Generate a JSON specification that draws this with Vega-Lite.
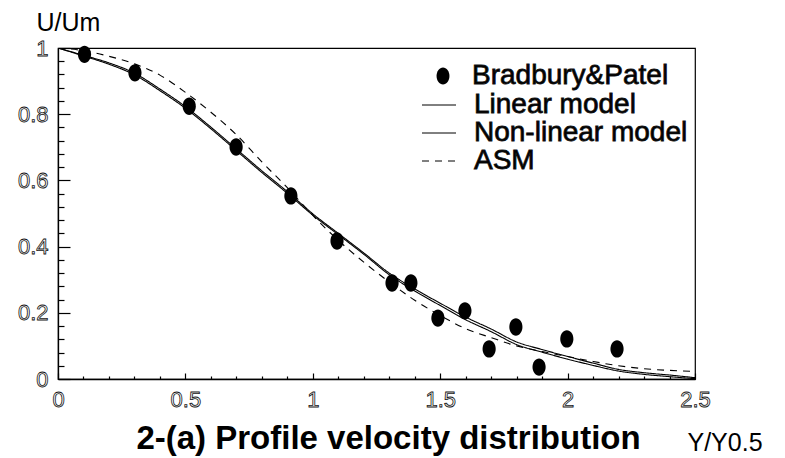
{
  "$schema": "https://vega.github.io/schema/vega-lite/v6.json",
  "width": 637,
  "height": 331,
  "autosize": {"type": "none"},
  "padding": {"left": 58, "top": 48, "right": 90, "bottom": 79},
  "background": "white",
  "config": {
    "view": {"stroke": "black", "strokeWidth": 1.2},
    "axis": {
      "grid": false,
      "domainColor": "black",
      "domainWidth": 1.3,
      "tickColor": "black",
      "tickWidth": 1.2,
      "labelFont": "Liberation Sans",
      "labelFontSize": 22,
      "labelColor": "white",
      "titleFont": "Liberation Sans",
      "titleFontWeight": "normal",
      "titleColor": "black"
    },
    "style": {
      "guide-label": {"stroke": "#111111", "strokeWidth": 0.8}
    },
    "legend": {
      "labelFont": "Liberation Sans",
      "labelFontSize": 28,
      "labelColor": "black",
      "labelLimit": 400
    }
  },
  "datasets": {
    "lines": [
      {"series": "Linear model", "x": 0.0, "y": 1.000},
      {"series": "Linear model", "x": 0.1, "y": 0.978},
      {"series": "Linear model", "x": 0.2, "y": 0.955},
      {"series": "Linear model", "x": 0.3, "y": 0.924},
      {"series": "Linear model", "x": 0.4, "y": 0.876},
      {"series": "Linear model", "x": 0.5, "y": 0.823},
      {"series": "Linear model", "x": 0.6, "y": 0.761},
      {"series": "Linear model", "x": 0.7, "y": 0.695},
      {"series": "Linear model", "x": 0.8, "y": 0.629},
      {"series": "Linear model", "x": 0.9, "y": 0.566},
      {"series": "Linear model", "x": 1.0, "y": 0.499},
      {"series": "Linear model", "x": 1.1, "y": 0.440},
      {"series": "Linear model", "x": 1.2, "y": 0.381},
      {"series": "Linear model", "x": 1.3, "y": 0.320},
      {"series": "Linear model", "x": 1.4, "y": 0.272},
      {"series": "Linear model", "x": 1.5, "y": 0.229},
      {"series": "Linear model", "x": 1.6, "y": 0.187},
      {"series": "Linear model", "x": 1.7, "y": 0.151},
      {"series": "Linear model", "x": 1.8, "y": 0.112},
      {"series": "Linear model", "x": 1.9, "y": 0.089},
      {"series": "Linear model", "x": 2.0, "y": 0.068},
      {"series": "Linear model", "x": 2.1, "y": 0.048},
      {"series": "Linear model", "x": 2.2, "y": 0.029},
      {"series": "Linear model", "x": 2.3, "y": 0.019},
      {"series": "Linear model", "x": 2.4, "y": 0.012},
      {"series": "Linear model", "x": 2.5, "y": 0.004},
      {"series": "Non-linear model", "x": 0.0, "y": 1.000},
      {"series": "Non-linear model", "x": 0.1, "y": 0.976},
      {"series": "Non-linear model", "x": 0.2, "y": 0.951},
      {"series": "Non-linear model", "x": 0.3, "y": 0.919},
      {"series": "Non-linear model", "x": 0.4, "y": 0.871},
      {"series": "Non-linear model", "x": 0.5, "y": 0.818},
      {"series": "Non-linear model", "x": 0.6, "y": 0.756},
      {"series": "Non-linear model", "x": 0.7, "y": 0.690},
      {"series": "Non-linear model", "x": 0.8, "y": 0.624},
      {"series": "Non-linear model", "x": 0.9, "y": 0.561},
      {"series": "Non-linear model", "x": 1.0, "y": 0.495},
      {"series": "Non-linear model", "x": 1.1, "y": 0.436},
      {"series": "Non-linear model", "x": 1.2, "y": 0.377},
      {"series": "Non-linear model", "x": 1.3, "y": 0.315},
      {"series": "Non-linear model", "x": 1.4, "y": 0.266},
      {"series": "Non-linear model", "x": 1.5, "y": 0.222},
      {"series": "Non-linear model", "x": 1.6, "y": 0.179},
      {"series": "Non-linear model", "x": 1.7, "y": 0.143},
      {"series": "Non-linear model", "x": 1.8, "y": 0.104},
      {"series": "Non-linear model", "x": 1.9, "y": 0.081},
      {"series": "Non-linear model", "x": 2.0, "y": 0.060},
      {"series": "Non-linear model", "x": 2.1, "y": 0.041},
      {"series": "Non-linear model", "x": 2.2, "y": 0.024},
      {"series": "Non-linear model", "x": 2.3, "y": 0.014},
      {"series": "Non-linear model", "x": 2.4, "y": 0.007},
      {"series": "Non-linear model", "x": 2.5, "y": 0.001},
      {"series": "ASM", "x": 0.0, "y": 1.000},
      {"series": "ASM", "x": 0.1, "y": 0.992},
      {"series": "ASM", "x": 0.2, "y": 0.975},
      {"series": "ASM", "x": 0.3, "y": 0.952},
      {"series": "ASM", "x": 0.4, "y": 0.918},
      {"series": "ASM", "x": 0.5, "y": 0.866},
      {"series": "ASM", "x": 0.6, "y": 0.806},
      {"series": "ASM", "x": 0.7, "y": 0.738},
      {"series": "ASM", "x": 0.8, "y": 0.656},
      {"series": "ASM", "x": 0.9, "y": 0.578},
      {"series": "ASM", "x": 1.0, "y": 0.494},
      {"series": "ASM", "x": 1.1, "y": 0.419},
      {"series": "ASM", "x": 1.2, "y": 0.353},
      {"series": "ASM", "x": 1.3, "y": 0.293},
      {"series": "ASM", "x": 1.4, "y": 0.238},
      {"series": "ASM", "x": 1.5, "y": 0.192},
      {"series": "ASM", "x": 1.6, "y": 0.152},
      {"series": "ASM", "x": 1.7, "y": 0.125},
      {"series": "ASM", "x": 1.8, "y": 0.100},
      {"series": "ASM", "x": 1.9, "y": 0.083},
      {"series": "ASM", "x": 2.0, "y": 0.068},
      {"series": "ASM", "x": 2.1, "y": 0.053},
      {"series": "ASM", "x": 2.2, "y": 0.040},
      {"series": "ASM", "x": 2.3, "y": 0.031},
      {"series": "ASM", "x": 2.4, "y": 0.026},
      {"series": "ASM", "x": 2.5, "y": 0.023}
    ],
    "points": [
      {"series": "Bradbury&Patel", "x": 0.104, "y": 0.981},
      {"series": "Bradbury&Patel", "x": 0.302, "y": 0.925},
      {"series": "Bradbury&Patel", "x": 0.515, "y": 0.824},
      {"series": "Bradbury&Patel", "x": 0.699, "y": 0.701},
      {"series": "Bradbury&Patel", "x": 0.914, "y": 0.553},
      {"series": "Bradbury&Patel", "x": 1.095, "y": 0.417},
      {"series": "Bradbury&Patel", "x": 1.311, "y": 0.290},
      {"series": "Bradbury&Patel", "x": 1.385, "y": 0.290},
      {"series": "Bradbury&Patel", "x": 1.491, "y": 0.184},
      {"series": "Bradbury&Patel", "x": 1.597, "y": 0.206},
      {"series": "Bradbury&Patel", "x": 1.692, "y": 0.091},
      {"series": "Bradbury&Patel", "x": 1.797, "y": 0.157},
      {"series": "Bradbury&Patel", "x": 1.888, "y": 0.036},
      {"series": "Bradbury&Patel", "x": 1.997, "y": 0.121},
      {"series": "Bradbury&Patel", "x": 2.194, "y": 0.091}
    ]
  },
  "resolve": {"axis": {"x": "independent", "y": "independent"}},
  "layer": [
    {
      "data": {"name": "lines"},
      "mark": {"type": "line", "color": "black", "strokeWidth": 1.1, "interpolate": "monotone", "clip": true},
      "encoding": {
        "x": {
          "field": "x", "type": "quantitative",
          "scale": {"domain": [0, 2.5], "nice": false, "zero": false},
          "axis": {
            "orient": "bottom",
            "values": [0, 0.5, 1, 1.5, 2, 2.5],
            "format": "~g",
            "tickSize": -6,
            "labelPadding": 16,
            "labelFlush": false,
            "labelOverlap": false,
            "title": "2-(a) Profile velocity distribution",
            "titleFontSize": 33,
            "titleFontWeight": "bold",
            "titleAnchor": "start",
            "titleAlign": "center",
            "titleBaseline": "alphabetic",
            "titleX": 330,
            "titleY": 69
          }
        },
        "y": {
          "field": "y", "type": "quantitative",
          "scale": {"domain": [0, 1], "nice": false, "zero": false},
          "axis": {
            "orient": "left",
            "values": [0, 0.2, 0.4, 0.6, 0.8, 1],
            "format": "~g",
            "tickSize": -12,
            "labelPadding": 22,
            "labelFlush": false,
            "labelOverlap": false,
            "title": "U/Um",
            "titleFontSize": 25,
            "titleAngle": 0,
            "titleAnchor": "start",
            "titleAlign": "left",
            "titleBaseline": "alphabetic",
            "titleX": -22,
            "titleY": -18
          }
        },
        "detail": {"field": "series"},
        "strokeDash": {
          "field": "series", "type": "nominal",
          "scale": {"domain": ["Linear model", "Non-linear model", "ASM"], "range": [[1, 0], [1, 0], [7, 6]]},
          "legend": {
            "title": null,
            "orient": "none",
            "legendX": 367,
            "legendY": 43,
            "padding": 0,
            "symbolType": "M-2,0L2,0",
            "symbolSize": 289,
            "symbolStrokeColor": "black",
            "symbolStrokeWidth": 1,
            "labelOffset": 21,
            "rowPadding": -1
          }
        }
      }
    },
    {
      "data": {"name": "points"},
      "mark": {"type": "point", "filled": true, "color": "black", "size": 300, "opacity": 1},
      "encoding": {
        "x": {
          "field": "x", "type": "quantitative",
          "axis": {
            "orient": "bottom",
            "values": [0.1, 0.2, 0.3, 0.4, 0.6, 0.7, 0.8, 0.9, 1.1, 1.2, 1.3, 1.4, 1.6, 1.7, 1.8, 1.9, 2.1, 2.2, 2.3, 2.4],
            "tickSize": -3,
            "labels": false,
            "domain": false,
            "title": "Y/Y0.5",
            "titleFontSize": 25,
            "titleAnchor": "start",
            "titleAlign": "left",
            "titleBaseline": "alphabetic",
            "titleX": 629,
            "titleY": 71
          }
        },
        "y": {
          "field": "y", "type": "quantitative",
          "axis": {
            "orient": "left",
            "values": [0.04, 0.08, 0.12, 0.16, 0.24, 0.28, 0.32, 0.36, 0.44, 0.48, 0.52, 0.56, 0.64, 0.68, 0.72, 0.76, 0.84, 0.88, 0.92, 0.96],
            "tickSize": -6,
            "labels": false,
            "domain": false,
            "title": null
          }
        },
        "shape": {
          "field": "series", "type": "nominal",
          "scale": {
            "domain": ["Bradbury&Patel"],
            "range": ["M0,-1A0.76,1,0,1,1,0,1A0.76,1,0,1,1,0,-1Z"]
          },
          "legend": {
            "title": null,
            "orient": "none",
            "legendX": 371,
            "legendY": 14,
            "padding": 0,
            "symbolSize": 289,
            "symbolFillColor": "black",
            "symbolOpacity": 1,
            "labelOffset": 15
          }
        }
      }
    }
  ]
}
